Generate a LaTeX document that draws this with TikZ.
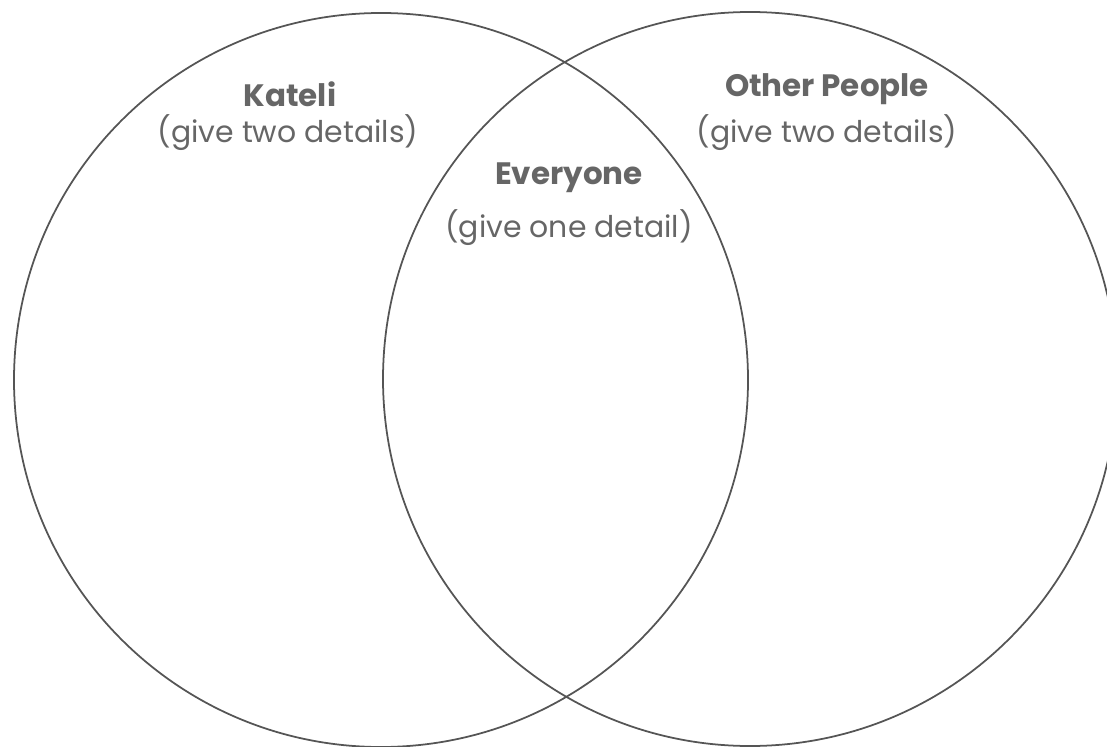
\documentclass[tikz,border=0pt]{standalone}
\usepackage{fontspec}
\setmainfont{Poppins}
\definecolor{ringgray}{HTML}{555555}
\definecolor{textgray}{HTML}{666666}
\tikzset{
  ring/.style={draw=ringgray, line width=0.5pt},
  head/.style={text=textgray, font=\fontsize{8.8}{10}\selectfont\bfseries},
  hint/.style={text=textgray, font=\fontsize{8.5}{10}\selectfont}
}
\begin{document}
\begin{tikzpicture}[x=0.01cm, y=-0.01cm]
                \useasboundingbox (0, 0) rectangle (1107, 746);

                 \draw[ring] (381, 380) circle[radius=367];
                 \draw[ring] (750, 379) circle[radius=367];

                    \node[head] (kateli) at (290, 94){Kateli};
                    \node[hint] (katelihint) at (288, 133){(give two details)};

                    \node[head] (everyone) at (569, 178){Everyone};
                    \node[hint] (everyonehint) at (569, 228){(give one detail)};

                    \node[head] (others) at (827, 89){Other People};
                    \node[hint] (othershint) at (827, 133){(give two details)};

\end{tikzpicture}
\end{document}
